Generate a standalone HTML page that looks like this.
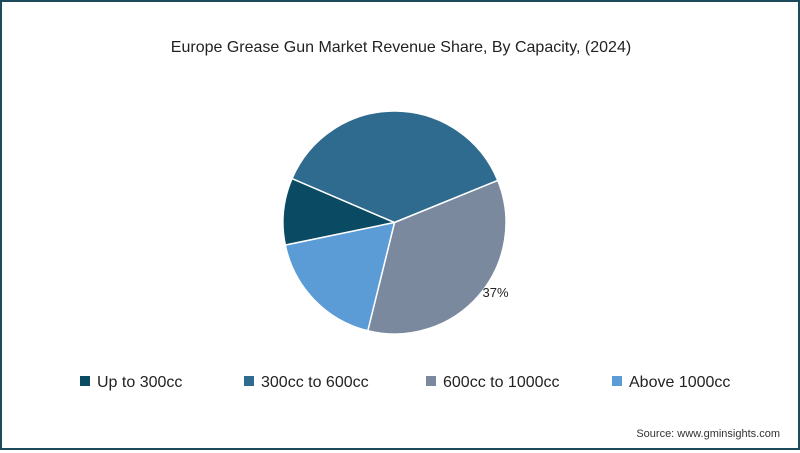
<!DOCTYPE html>
<html><head><meta charset="utf-8"><style>
html,body{margin:0;padding:0;background:#fff}
#wrap{position:relative;width:800px;height:450px;box-sizing:border-box;border:2px solid #1f4a5c;background:#fff;font-family:"Liberation Sans",sans-serif}
</style></head><body>
<div id="wrap">
<svg id="chart" width="796" height="446" viewBox="2 2 796 446">
<text x="401" y="52" text-anchor="middle" font-size="16" fill="#222" font-family="Liberation Sans, sans-serif">Europe Grease Gun Market Revenue Share, By Capacity, (2024)</text>
<g id="slices"></g>
<g id="legend"></g>
<text x="780" y="437" text-anchor="end" font-size="11" fill="#333" font-family="Liberation Sans, sans-serif">Source: www.gminsights.com</text>
</svg>
</div>
<script>
const categories = ["Up to 300cc","300cc to 600cc","600cc to 1000cc","Above 1000cc"];
const shares = [9.7, 37.4, 35.0, 17.9];
const sliceLabels = ["", "", "37%", ""];
const colors = ["#0b4a63","#2f6b8e","#7a899d","#5b9bd6"];
const cx=394.5, cy=222.5, r=111.5, startDeg=258.3;
const NS="http://www.w3.org/2000/svg";
const g=document.getElementById('slices');
const total=shares.reduce((a,b)=>a+b,0);
function pt(deg,rad){const a=deg*Math.PI/180;return [cx+rad*Math.sin(a), cy-rad*Math.cos(a)];}
let acc=startDeg;
shares.forEach((v,i)=>{
  const sweep=v/total*360;
  const a0=acc,a1=acc+sweep;acc=a1;
  const p0=pt(a0,r),p1=pt(a1,r);
  const path=document.createElementNS(NS,'path');
  path.setAttribute('d',`M${cx},${cy}L${p0[0]},${p0[1]}A${r},${r} 0 ${sweep>180?1:0} 1 ${p1[0]},${p1[1]}Z`);
  path.setAttribute('fill',colors[i]);
  path.setAttribute('stroke','#fff');
  path.setAttribute('stroke-width','1.5');
  
  
  g.appendChild(path);
  if(sliceLabels[i]){
    const t=document.createElementNS(NS,'text');
    const lp=pt(a0+sweep*0.45,r*1.1);
    t.setAttribute('x',lp[0]);t.setAttribute('y',lp[1]+5);
    t.setAttribute('text-anchor','middle');
    t.setAttribute('font-size','13');t.setAttribute('fill','#222');
    t.textContent=sliceLabels[i];
    
    
    g.appendChild(t);
  }
});
const lg=document.getElementById('legend');
const lx=[80,244,426,612];
categories.forEach((c,i)=>{
  const rc=document.createElementNS(NS,'rect');
  rc.setAttribute('x',lx[i]);rc.setAttribute('y',376);rc.setAttribute('width',10);rc.setAttribute('height',10);
  rc.setAttribute('fill',colors[i]);
  
  
  lg.appendChild(rc);
  const t=document.createElementNS(NS,'text');
  t.setAttribute('x',lx[i]+17);t.setAttribute('y',387);t.setAttribute('font-size','16');t.setAttribute('fill','#222');
  t.textContent=c;
  
  
  lg.appendChild(t);
});
</script>
</body></html>
